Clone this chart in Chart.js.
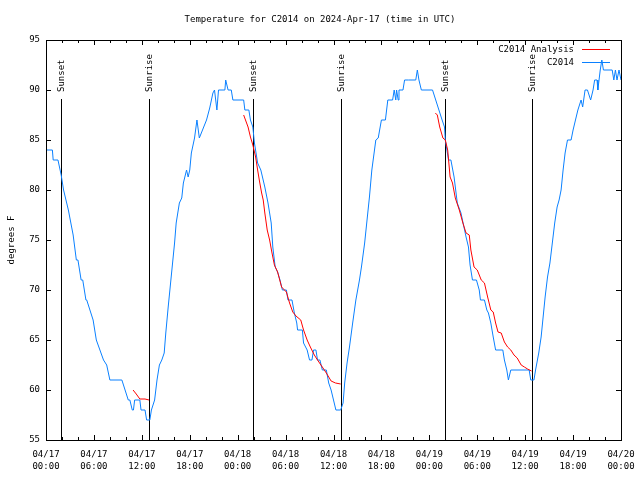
<!DOCTYPE html>
<html>
<head>
<meta charset="utf-8">
<script src="https://cdn.jsdelivr.net/npm/chart.js@4.4.1/dist/chart.umd.min.js"></script>
<style>
  html, body { margin: 0; padding: 0; background: #fff; }
</style>
</head>
<body>
<canvas id="myChart" width="640" height="480"></canvas>
<script>
// hours since 04/17 00:00 UTC
const obsHours = [0, 0.8, 0.9, 1.5, 1.9, 2.2, 2.8, 3.4, 3.8, 4.0, 4.4, 4.6, 5.0, 5.1, 5.9, 6.3, 6.75, 7.2, 7.6, 8.0,
  9.5, 9.9, 10.3, 10.5, 10.8, 10.95, 11.1, 11.75, 11.9, 12.4, 12.6, 13.0, 13.2, 13.6, 13.9, 14.2, 14.5, 14.8, 15.0, 15.3,
  15.6, 15.8, 16.1, 16.3, 16.7, 17.0, 17.2, 17.6, 17.8, 18.0, 18.2, 18.6, 18.9, 19.2, 19.7, 20.1, 20.5, 20.9, 21.1, 21.4,
  21.6, 22.4, 22.5, 22.8, 23.2, 23.4, 24.75, 24.9, 25.4, 25.6, 25.9, 26.1, 26.5, 26.9, 27.4, 27.8, 28.2, 28.4, 28.7, 29.0,
  29.3, 29.6, 30.1, 30.3, 30.8, 31.1, 31.4, 31.5, 32.1, 32.25, 32.7, 33.0, 33.3, 33.5, 33.8, 34.0, 34.3, 34.6, 35.1, 35.4,
  35.7, 36.0, 36.3, 36.9, 37.2, 37.4, 37.7, 38.0, 38.4, 38.8, 39.25, 39.5, 39.9, 40.2, 40.5, 40.8, 41.3, 41.6, 42.0, 42.5,
  42.8, 43.4, 43.6, 43.8, 43.9, 44.1, 44.2, 44.7, 44.9, 45.4, 46.3, 46.5, 46.7, 47.0, 48.4, 48.8, 49.2, 49.6, 49.9, 50.0,
  50.4, 50.7, 51.1, 51.5, 51.96, 52.2, 52.6, 52.9, 53.1, 53.4, 53.9, 54.25, 54.4, 54.9, 55.2, 55.4, 55.7, 56.0, 56.3, 57.2,
  57.4, 57.7, 57.9, 58.2, 60.5, 60.7, 61.1, 61.3, 61.7, 62.0, 62.25, 62.5, 62.8, 63.1, 63.4, 63.7, 64.0, 64.25, 64.5, 64.75,
  65.0, 65.3, 65.75, 66.0, 66.3, 66.6, 67.0, 67.2, 67.5, 67.8, 68.2, 68.5, 68.7, 69.0, 69.1, 69.4, 69.6, 69.8, 70.9, 71.1,
  71.3, 71.5, 71.75, 72];
const obsTemps = [84, 84, 83, 83, 81.5, 80, 78, 75.5, 73, 73, 71, 71, 69, 69, 67, 65, 64, 63, 62.5, 61,
  61, 60, 59, 59, 58, 58, 59, 59, 58, 58, 57, 57, 58, 59, 61, 62.5, 63, 63.7, 65.7, 68.3,
  70.7, 72.3, 74.7, 76.7, 78.7, 79.2, 80.7, 82, 81.3, 82, 83.7, 85.2, 87, 85.2, 86.2, 87, 88.2, 89.7, 90, 88,
  90, 90, 91, 90, 90, 89, 89, 88, 88, 87, 86.3, 84.7, 82.7, 82, 80.3, 78.7, 76.7, 74.3, 72.3, 71.8,
  71, 70, 70, 69, 69, 67.7, 66.7, 66, 66, 64.7, 64, 63, 63, 64, 64, 63, 63, 62, 62, 60.7,
  60, 59, 58, 58, 58.7, 60.7, 62.7, 64.3, 66.7, 69, 71, 72.3, 74.7, 77, 79.3, 82, 85, 85.2, 87, 87,
  89, 89, 90, 89, 90, 89, 90, 90, 91, 91, 91, 92, 91, 90, 90, 89, 88, 87, 86.3, 85,
  83, 83, 81.3, 78.7, 77.7, 76.8, 75.3, 74.3, 72.5, 71, 71, 70, 69, 69, 68, 67.7, 66.7, 65.3, 64, 64,
  63, 62, 61, 62, 62, 61, 61, 62, 63.7, 65.3, 67.3, 69.3, 71.3, 72.7, 74.7, 76.7, 78.3, 79, 80, 82,
  83.7, 85, 85, 86, 87, 88, 89, 88.3, 90, 90, 89, 90, 91, 91, 90, 92, 93, 92, 92, 91,
  92, 91, 92, 91];

// analysis curve, null breaks the line between nights
const anaHours = [10.9, 11.3, 11.75, 12.4, 12.9, 18,
  24.75, 25.3, 25.6, 25.9, 26.25, 26.5, 26.75, 27.0, 27.2, 27.4, 27.7, 28.0, 28.3, 28.6, 29.0, 29.5, 30.1, 30.5, 30.9,
  31.3, 31.9, 32.25, 32.7, 33.1, 33.6, 34.0, 34.6, 35.1, 35.7, 36.25, 36.9, 42,
  48.75, 49.0, 49.3, 49.7, 50.0, 50.3, 50.6, 50.9, 51.25, 51.75, 52.2, 52.6, 53.0, 53.2, 53.6, 54.0, 54.5, 54.9, 55.3,
  55.7, 56.0, 56.3, 56.6, 57.0, 57.4, 57.8, 58.2, 58.6, 59.0, 59.5, 59.9, 60.3, 60.8];
const anaTemps = [60, 59.6, 59.1, 59.1, 59.0, null,
  87.5, 86.3, 85.3, 84.5, 83.3, 82, 80.8, 79.7, 79, 77.7, 76, 75, 73.7, 72.5, 71.8, 70.3, 69.8, 68.7, 67.8,
  67.4, 67, 66, 65, 64.3, 63.5, 63, 62.3, 61.7, 60.9, 60.7, 60.6, null,
  87.7, 87.5, 86.3, 85.2, 85, 84, 81.3, 80.7, 79.2, 78, 76.7, 75.7, 75.5, 74, 72.3, 72, 71, 70.7, 69.3,
  68, 67.8, 66.7, 65.8, 65.7, 64.8, 64.3, 64, 63.5, 63.2, 62.5, 62.3, 62.1, 61.9];

const sunHours = [1.9, 12.9, 25.9, 36.9, 49.9, 60.8];
const sunLabels = ['Sunset', 'Sunrise', 'Sunset', 'Sunrise', 'Sunset', 'Sunrise'];
const dayLabels = ['04/17', '04/18', '04/19', '04/20'];

const FONT = '9px "DejaVu Sans Mono", monospace';

const gnuplotFrame = {
  id: 'gnuplotFrame',
  beforeDatasetsDraw(chart) {
    const { ctx, chartArea, scales } = chart;
    ctx.save();
    ctx.strokeStyle = '#000';
    ctx.lineWidth = 1;
    ctx.fillStyle = '#000';
    ctx.font = FONT;
    const yTop = scales.y.getPixelForValue(89.1);
    sunHours.forEach((h, i) => {
      const x = Math.round(scales.x.getPixelForValue(h)) + 0.5;
      ctx.beginPath();
      ctx.moveTo(x, yTop);
      ctx.lineTo(x, chartArea.bottom);
      ctx.stroke();
      ctx.save();
      ctx.translate(x, yTop - 7);
      ctx.rotate(-Math.PI / 2);
      ctx.textAlign = 'left';
      ctx.textBaseline = 'middle';
      ctx.fillText(sunLabels[i], 0, 0);
      ctx.restore();
    });
    ctx.restore();
  },
  afterDraw(chart) {
    const { ctx, chartArea, scales } = chart;
    const { left, right, top, bottom } = chartArea;
    ctx.save();
    ctx.strokeStyle = '#000';
    ctx.lineWidth = 1;
    ctx.strokeRect(Math.round(left) + 0.5, Math.round(top) + 0.5, Math.round(right - left), Math.round(bottom - top));
    ctx.beginPath();
    // x ticks every 2 hours, longer every 6
    for (let h = 0; h <= 72; h += 2) {
      const x = Math.round(scales.x.getPixelForValue(h)) + 0.5;
      const len = h % 6 === 0 ? 5 : 3;
      ctx.moveTo(x, bottom); ctx.lineTo(x, bottom - len);
      ctx.moveTo(x, top); ctx.lineTo(x, top + len);
    }
    for (let t = 55; t <= 95; t += 5) {
      const y = Math.round(scales.y.getPixelForValue(t)) + 0.5;
      ctx.moveTo(left, y); ctx.lineTo(left + 5, y);
      ctx.moveTo(right, y); ctx.lineTo(right - 5, y);
    }
    ctx.stroke();

    // title
    ctx.fillStyle = '#000';
    ctx.font = FONT;
    ctx.textAlign = 'center';
    ctx.textBaseline = 'middle';
    ctx.fillText('Temperature for C2014 on 2024-Apr-17 (time in UTC)', 320, 20);

    // key, top right
    ctx.textAlign = 'right';
    chart.data.datasets.forEach((ds, i) => {
      const y = 50 + i * 13;
      ctx.fillStyle = '#000';
      ctx.fillText(ds.label, 574, y);
      ctx.strokeStyle = ds.borderColor;
      ctx.beginPath();
      ctx.moveTo(582, y - 0.5);
      ctx.lineTo(610, y - 0.5);
      ctx.stroke();
    });
    ctx.restore();
  }
};

const ctx = document.getElementById('myChart').getContext('2d');
const myChart = new Chart(ctx, {
  type: 'line',
  data: {
    datasets: [{
      label: 'C2014 Analysis',
      data: anaHours.map((h, i) => ({ x: h, y: anaTemps[i] })),
      borderColor: '#ff0000',
      borderWidth: 1,
      pointRadius: 0,
      tension: 0,
      spanGaps: false
    }, {
      label: 'C2014',
      data: obsHours.map((h, i) => ({ x: h, y: obsTemps[i] })),
      borderColor: '#0a80ff',
      borderWidth: 1,
      pointRadius: 0,
      tension: 0
    }]
  },
  options: {
    responsive: false,
    animation: false,
    events: [],
    layout: { padding: { top: 40, right: 19, left: 0, bottom: 0 } },
    scales: {
      x: {
        type: 'linear',
        min: 0,
        max: 72,
        grid: { display: false, drawTicks: false },
        border: { display: false },
        afterFit: s => { s.height = 40; s.paddingLeft = 0; s.paddingRight = 0; },
        ticks: {
          stepSize: 6,
          autoSkip: false,
          maxRotation: 0,
          padding: 8,
          color: '#000',
          font: { family: '"DejaVu Sans Mono", monospace', size: 9, lineHeight: 1.4 },
          callback: v => [dayLabels[Math.floor(v / 24)], String(v % 24).padStart(2, '0') + ':00']
        }
      },
      y: {
        min: 55,
        max: 95,
        grid: { display: false, drawTicks: false },
        border: { display: false },
        afterFit: s => { s.width = 46; s.paddingTop = 0; s.paddingBottom = 0; },
        ticks: {
          stepSize: 5,
          padding: 6,
          color: '#000',
          font: { family: '"DejaVu Sans Mono", monospace', size: 9 }
        },
        title: {
          display: true,
          text: 'degrees F',
          color: '#000',
          padding: { top: 6, bottom: 0 },
          font: { family: '"DejaVu Sans Mono", monospace', size: 9 }
        }
      }
    },
    plugins: {
      legend: { display: false },
      tooltip: { enabled: false }
    }
  },
  plugins: [gnuplotFrame]
});
</script>
</body>
</html>
